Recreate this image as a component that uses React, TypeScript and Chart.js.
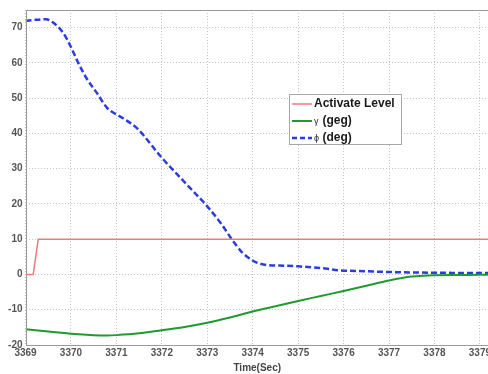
import React, { useEffect, useRef } from "react";
import { Chart, registerables } from "chart.js";

Chart.register(...registerables);

const X_TICKS = [3369, 3370, 3371, 3372, 3373, 3374, 3375, 3376, 3377, 3378, 3379];
const Y_TICKS = [-20, -10, 0, 10, 20, 30, 40, 50, 60, 70];

const TIME_ACT = [3369, 3369.17, 3369.28, 3379.5];
const ACT = [0, 0, 10, 10];

const TIME_GAMMA = [3369, 3369.5, 3370, 3370.5, 3370.8, 3371, 3371.5, 3372, 3372.5, 3373, 3373.5, 3374, 3374.5, 3375, 3375.5, 3376, 3376.5, 3377, 3377.5, 3378, 3378.5, 3379, 3379.5];
const GAMMA = [-15.5, -16.2, -16.8, -17.2, -17.3, -17.2, -16.7, -15.8, -14.9, -13.7, -12.2, -10.5, -9.0, -7.5, -6.1, -4.7, -3.2, -1.7, -0.6, -0.2, -0.15, -0.1, -0.1];

const TIME_PHI = [3369, 3369.2, 3369.45, 3369.6, 3369.83, 3370.0, 3370.15, 3370.35, 3370.57, 3370.8, 3371.15, 3371.45, 3372, 3372.5, 3373, 3373.3, 3373.54, 3373.75, 3373.9, 3374.05, 3374.3, 3374.7, 3375, 3375.5, 3375.9, 3376.5, 3377, 3378, 3379, 3379.5];
const PHI = [71.9, 72.2, 72.4, 71.5, 68.5, 64.5, 60.3, 55.5, 51.5, 47.2, 44.3, 41.5, 33.1, 26.2, 19.3, 14.5, 10, 6.5, 4.8, 3.6, 2.7, 2.5, 2.3, 1.8, 1.2, 0.9, 0.7, 0.5, 0.4, 0.4];

const LEGEND = ["Activate Level", "(geg)", "(deg)"];
const LEGEND_SYMBOLS = ["", "\u03b3", "\u03d5"];

const RED = "#f07a7a";
const GREEN = "#1f9a2f";
const BLUE = "#2a3de0";

const FONT = "'Liberation Sans', Arial, sans-serif";

const zip = (xs: number[], ys: number[]) => xs.map((x, i) => ({ x, y: ys[i] }));

const framePlugin = {
  id: "frame",
  afterDraw(chart: any) {
    const { ctx, chartArea } = chart;
    const { left, top, right, bottom } = chartArea;
    ctx.save();
    ctx.strokeStyle = "#9a9a9a";
    ctx.lineWidth = 1;
    ctx.strokeRect(Math.round(left) + 0.5, Math.round(top) + 0.5, Math.round(right - left), Math.round(bottom - top));
    ctx.restore();

    // legend box
    const bx = 289, by = 94, bw = 112, bh = 50;
    ctx.save();
    ctx.fillStyle = "#ffffff";
    ctx.fillRect(bx, by, bw, bh);
    ctx.strokeStyle = "#a8a8a8";
    ctx.lineWidth = 1;
    ctx.strokeRect(bx + 0.5, by + 0.5, bw, bh);
    const rows = [104, 121, 138];
    const colors = [RED, GREEN, BLUE];
    const widths = [1.5, 2, 2.5];
    rows.forEach((y, i) => {
      ctx.beginPath();
      ctx.strokeStyle = colors[i];
      ctx.lineWidth = widths[i];
      ctx.setLineDash(i === 2 ? [5, 3] : []);
      ctx.moveTo(292, y);
      ctx.lineTo(312, y);
      ctx.stroke();
      ctx.setLineDash([]);
      ctx.fillStyle = "#1a1a1a";
      ctx.textBaseline = "middle";
      ctx.textAlign = "left";
      let tx = 314;
      if (LEGEND_SYMBOLS[i]) {
        ctx.font = `9px ${FONT}`;
        ctx.fillText(LEGEND_SYMBOLS[i], tx, y + 1);
        tx += 8.5;
      }
      ctx.font = `bold 12px ${FONT}`;
      ctx.fillText(LEGEND[i], tx, y);
    });
    ctx.restore();
  },
};

export default function App() {
  const ref = useRef<HTMLCanvasElement | null>(null);

  useEffect(() => {
    document.body.style.margin = "0";
    document.body.style.overflow = "hidden";
    const canvas = ref.current;
    if (!canvas) return;
    const chart = new Chart(canvas, {
      type: "line",
      data: {
        datasets: [
          {
            label: LEGEND[0],
            data: zip(TIME_ACT, ACT),
            borderColor: RED,
            borderWidth: 1.5,
            pointRadius: 0,
            tension: 0,
          },
          {
            label: LEGEND[1],
            data: zip(TIME_GAMMA, GAMMA),
            borderColor: GREEN,
            borderWidth: 2,
            pointRadius: 0,
            cubicInterpolationMode: "monotone",
          },
          {
            label: LEGEND[2],
            data: zip(TIME_PHI, PHI),
            borderColor: BLUE,
            borderWidth: 2.5,
            borderDash: [6, 3],
            pointRadius: 0,
            cubicInterpolationMode: "monotone",
          },
        ],
      },
      options: {
        responsive: false,
        animation: false,
        devicePixelRatio: 1,
        layout: { padding: { left: 0, top: 10, right: 11, bottom: 0 } },
        plugins: { legend: { display: false }, tooltip: { enabled: false } },
        scales: {
          x: {
            type: "linear",
            min: 3369,
            max: 3379.2,
            afterBuildTicks: (s: any) => {
              s.ticks = X_TICKS.map((v) => ({ value: v }));
            },
            afterFit: (s: any) => {
              s.height = 29;
            },
            grid: { color: "#c4c4c4", drawTicks: false, lineWidth: 1 },
            border: { display: false, dash: [1, 2] },
            ticks: {
              padding: 2,
              color: "#555",
              font: { family: FONT, size: 10, weight: "bold" },
              maxRotation: 0,
              autoSkip: false,
              callback: (v: any) => String(v),
            },
            title: {
              display: true,
              text: "Time(Sec)",
              color: "#444",
              font: { family: FONT, size: 10, weight: "bold" },
              padding: 0,
            },
          },
          y: {
            type: "linear",
            min: -20,
            max: 75,
            afterBuildTicks: (s: any) => {
              s.ticks = Y_TICKS.map((v) => ({ value: v }));
            },
            afterFit: (s: any) => {
              s.width = 25.5;
            },
            grid: { color: "#c4c4c4", drawTicks: false, lineWidth: 1 },
            border: { display: false, dash: [1, 2] },
            ticks: {
              padding: 3,
              color: "#555",
              font: { family: FONT, size: 10, weight: "bold" },
              callback: (v: any) => String(v),
            },
          },
        },
      },
      plugins: [framePlugin],
    } as any);
    return () => chart.destroy();
  }, []);

  return (
    <div style={{ width: 488, height: 374, overflow: "hidden", position: "relative", background: "#fff" }}>
      <canvas ref={ref} width={500} height={374} style={{ display: "block", width: 500, height: 374 }} />
    </div>
  );
}
